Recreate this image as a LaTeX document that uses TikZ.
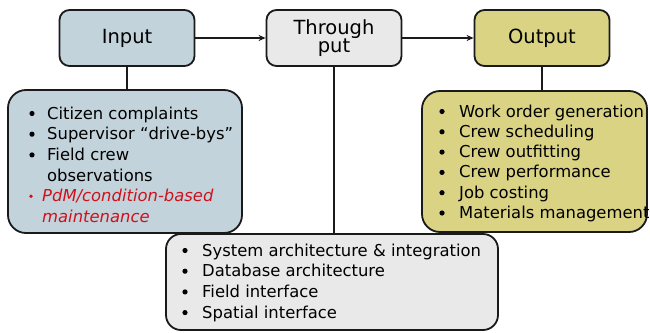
\documentclass[tikz,border=0pt]{standalone}
\usepackage{fontspec}
\setmainfont{DejaVu Sans}
\usetikzlibrary{arrows.meta}
\definecolor{inblue}{RGB}{195,211,220}
\definecolor{thgray}{RGB}{233,233,233}
\definecolor{outyel}{RGB}{217,211,131}
\definecolor{edge}{RGB}{26,26,26}
\definecolor{pdmred}{RGB}{208,16,26}
\begin{document}
\begin{tikzpicture}[x=1pt,y=-1pt,
  head/.style={draw=edge,line width=1.8pt,rounded corners=10pt,minimum width=135pt,minimum height=56pt,inner sep=0pt,align=center,font=\fontsize{19.5}{18}\selectfont},
  detail/.style={draw=edge,line width=1.8pt,rounded corners=18pt,inner sep=0pt},
  conn/.style={draw=edge,line width=1.6pt},
  item/.style={anchor=base west,inner sep=0pt,font=\fontsize{16.4}{20}\selectfont},
  reditem/.style={item,text=pdmred,font=\fontsize{16.4}{20}\selectfont\itshape},
  dot/.style={fill=black},
  reddot/.style={fill=pdmred}]
\useasboundingbox (0,0) rectangle (650,332);
% header boxes
\node[head,fill=inblue] (in) at (127,38) {Input};
\node[head,fill=thgray] (th) at (334,38) {Through\\put};
\node[head,fill=outyel] (out) at (542,38) {Output};
% connector end points on the detail boxes
\coordinate (indetN) at (127,90);
\coordinate (outdetN) at (542,91);
\coordinate (botN) at (334,234);
\draw[conn] (in.south) -- (indetN);
\draw[conn] (out.south) -- (outdetN);
\draw[conn] (th.south) -- (botN);
\draw[conn,-{Stealth[length=7pt,width=6pt]}] (in.east) -- (th.west);
\draw[conn,-{Stealth[length=7pt,width=6pt]}] (th.east) -- (out.west);
\node[detail,fill=inblue,minimum width=234pt,minimum height=143pt] (indet) at (125,161.5) {};
\node[detail,fill=outyel,minimum width=225pt,minimum height=141pt] (outdet) at (534.5,161.5) {};
\node[detail,fill=thgray,rounded corners=15pt,minimum width=332pt,minimum height=96pt] (bot) at (332,282) {};
% input items
\node[item] (i1) at (47,119) {Citizen complaints};
\node[item] (i2) at (47,139.7) {Supervisor “drive-bys”};
\node[item] (i3) at (47,160.4) {Field crew};
\node[item] (i3b) at (47,181.1) {observations};
\node[reditem] (i4) at (42,201.8) {PdM/condition-based};
\node[reditem] (i4b) at (42,222.5) {maintenance};
\fill[dot] (32,113.5) circle (2.6);
\fill[dot] (32,134.2) circle (2.6);
\fill[dot] (32,154.9) circle (2.6);
\fill[reddot] (31,196.3) circle (1.9);
% output items
\node[item] (o1) at (459,117) {Work order generation};
\node[item] (o2) at (459,137.3) {Crew scheduling};
\node[item] (o3) at (459,157.6) {Crew outfitting};
\node[item] (o4) at (459,177.9) {Crew performance};
\node[item] (o5) at (459,198.2) {Job costing};
\node[item] (o6) at (459,218.5) {Materials management};
\foreach \yy in {111.5,131.8,152.1,172.4,192.7,213.0} \fill[dot] (442,\yy) circle (2.6);
% bottom items
\node[item] (b1) at (202,256) {System architecture \& integration};
\node[item] (b2) at (202,276.7) {Database architecture};
\node[item] (b3) at (202,297.4) {Field interface};
\node[item] (b4) at (202,318.1) {Spatial interface};
\foreach \yy in {250.5,271.2,291.9,312.6} \fill[dot] (185,\yy) circle (2.6);
\end{tikzpicture}
\end{document}
